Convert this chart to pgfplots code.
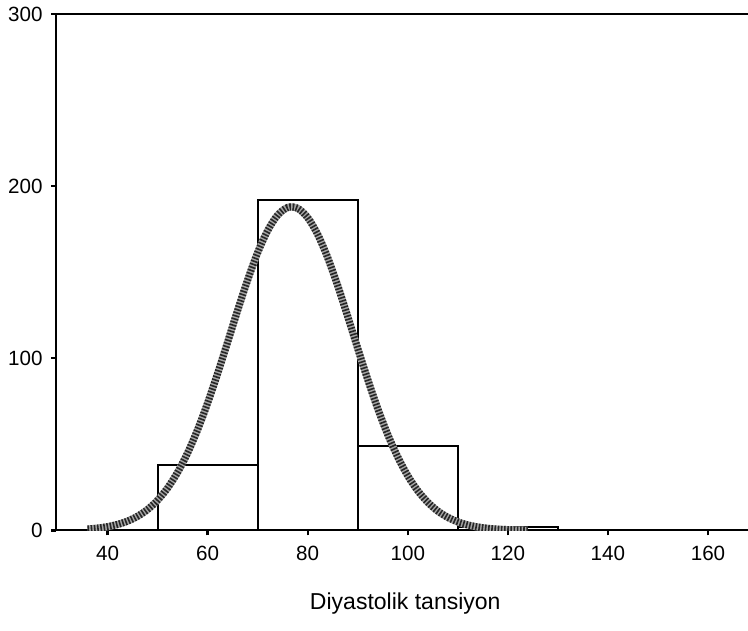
\documentclass[border=0pt]{standalone}
\usepackage{pgfplots}
\pgfplotsset{compat=1.18}
\usepackage{fontspec}
\setmainfont{Liberation Sans}
\pgfplotstableread{
x y
36 0.77
38 1.30
40 2.14
42 3.44
44 5.37
46 8.18
48 12.13
50 17.51
52 24.62
54 33.74
56 45.0
58 58.5
60 74.0
62 91.2
64 109.4
66 127.9
68 145.5
70 161.4
72 174.2
74 183.2
76 187.6
78 187.1
80 181.7
82 171.9
84 158.4
86 142.1
88 124.2
90 105.7
92 87.6
94 70.7
96 55.6
98 42.6
100 31.7
102 23.0
104 16.3
106 11.2
108 7.54
110 4.92
112 3.13
114 1.94
116 1.17
118 0.69
120 0.39
122 0.22
124 0.1
}\curve
\begin{document}
\begin{tikzpicture}
\begin{axis}[
  at={(0,0)}, anchor=south west,
  scale only axis,
  width=350.75pt, height=258pt,
  xmin=29.7, xmax=170,
  ymin=0, ymax=300,
  axis line style={line width=1.1pt},
  xtick={40,60,80,100,120,140,160},
  ytick={0,100,200,300},
  xtick pos=bottom, ytick pos=left,
  tick align=outside,
  major tick length=2.5pt,
  tick style={line width=1.2pt, black},
  /pgf/number format/assume math mode=true,
  tick label style={font=\fontsize{10.3}{12}\selectfont},
  xticklabel style={yshift=-2pt},
  yticklabel style={xshift=-0.7pt},
  xlabel={Diyastolik tansiyon},
  xlabel style={at={(axis description cs:0.4975,-0.1415)}, anchor=center, font=\fontsize{11.5}{13}\selectfont},
]
\addplot[ybar interval, draw=black, fill=white, line width=0.9pt]
  coordinates {(50,38) (70,192) (90,49) (110,2) (130,2)};
\addplot[black!35, line width=3.6pt, smooth] table[x=x,y=y] {\curve};
\addplot[black!85, line width=3.6pt, dash pattern=on 0.8pt off 0.8pt, smooth] table[x=x,y=y] {\curve};
\end{axis}
\pgfresetboundingbox
\path[use as bounding box] (-28pt,-50pt) rectangle (345.75pt,265pt);
\end{tikzpicture}
\end{document}
